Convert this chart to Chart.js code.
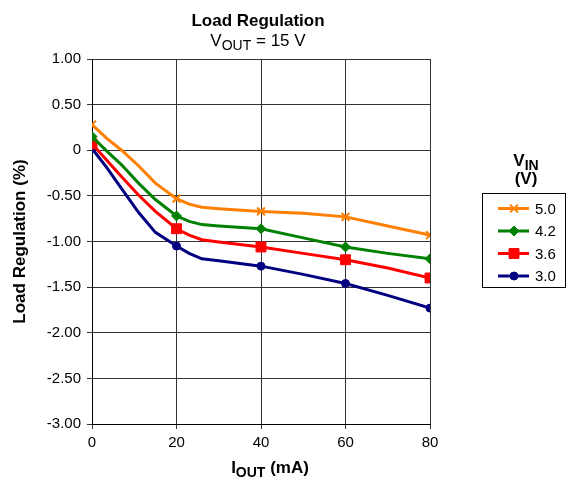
<!DOCTYPE html>
<html>
<head>
<meta charset="utf-8">
<script src="https://cdn.jsdelivr.net/npm/chart.js@4/dist/chart.umd.min.js"></script>
<style>
body { margin: 0; background: #fff; }
#wrap { position: relative; width: 576px; height: 493px; font-family: "Liberation Sans", Arial, sans-serif; color: #000; }
#wrap canvas { position: absolute; left: 0; top: 0; }
.lbl { position: absolute; white-space: nowrap; text-align: center; line-height: 20px; }
.lbl sub { font-size: 14px; vertical-align: -4px; line-height: 0; }
</style>
</head>
<body>
<div id="wrap">
  <canvas id="myChart" width="576" height="493"></canvas>
  <div class="lbl" style="left:158px; width:200px; top:11px; font-size:17px; font-weight:bold;">Load Regulation</div>
  <div class="lbl" style="left:158px; width:200px; top:31px; font-size:17px;">V<sub>OUT</sub> = 15 V</div>
  <div class="lbl" style="left:170px; width:200px; top:458px; font-size:17px; font-weight:bold;">I<sub>OUT</sub> (mA)</div>
  <div class="lbl" style="left:476px; width:100px; top:151px; font-size:17px; font-weight:bold;">V<sub>IN</sub></div>
  <div class="lbl" style="left:476px; width:100px; top:169px; font-size:17px; font-weight:bold;">(V)</div>
</div>
<script>
// output current (mA)
var iout = [0, 3.5, 7, 11, 15, 20, 23, 26, 30, 40, 50, 60, 70, 80];

// load regulation (%) for each input voltage
var vin50 = [0.28, 0.13, 0.0, -0.17, -0.36, -0.53, -0.59, -0.625, -0.64, -0.67, -0.69, -0.73, -0.83, -0.93];
var vin42 = [0.15, -0.01, -0.16, -0.36, -0.54, -0.72, -0.78, -0.815, -0.83, -0.86, -0.96, -1.06, -1.13, -1.19];
var vin36 = [0.07, -0.11, -0.29, -0.49, -0.67, -0.86, -0.93, -0.98, -1.005, -1.06, -1.13, -1.20, -1.29, -1.40];
var vin30 = [0.02, -0.19, -0.42, -0.68, -0.90, -1.05, -1.13, -1.19, -1.21, -1.27, -1.36, -1.46, -1.59, -1.73];

var seriesLabels = ['5.0', '4.2', '3.6', '3.0'];
var xTicks = [0, 20, 40, 60, 80];

var FONT = '"Liberation Sans", Arial, sans-serif';

function toPoints(ys) {
    var pts = [];
    for (var i = 0; i < iout.length; i++) {
        pts.push({x: iout[i], y: ys[i]});
    }
    return pts;
}

// marker only on the 20 mA grid points
function markerRadius(r) {
    return function(ctx) {
        return (ctx.raw && ctx.raw.x % 20 === 0) ? r : 0;
    };
}

function makeSet(label, ys, color, style, r, bw) {
    return {
        label: label,
        data: toPoints(ys),
        borderColor: color,
        backgroundColor: color,
        borderWidth: 3,
        tension: 0,
        pointStyle: style,
        pointRadius: markerRadius(r),
        pointHoverRadius: markerRadius(r),
        pointBackgroundColor: color,
        pointBorderColor: color,
        pointBorderWidth: bw,
        legendRadius: r
    };
}

// legend box at the right of the plot
var legendBox = {
    id: 'legendBox',
    afterDraw: function(chart) {
        var ctx = chart.ctx;
        var x0 = chart.chartArea.right + 53;
        ctx.save();
        ctx.strokeStyle = '#000';
        ctx.lineWidth = 1;
        ctx.strokeRect(x0 - 0.5, 193.5, 83, 94);
        chart.data.datasets.forEach(function(ds, i) {
            var y = 208.5 + i * 22.5;
            ctx.strokeStyle = ds.borderColor;
            ctx.fillStyle = ds.borderColor;
            ctx.lineWidth = 3;
            ctx.beginPath();
            ctx.moveTo(x0 + 15, y);
            ctx.lineTo(x0 + 46, y);
            ctx.stroke();
            ctx.lineWidth = ds.pointBorderWidth;
            Chart.helpers.drawPoint(ctx, {
                pointStyle: ds.pointStyle,
                radius: ds.legendRadius,
                borderWidth: ds.pointBorderWidth,
                rotation: 0
            }, x0 + 31, y);
            ctx.fillStyle = '#000';
            ctx.font = '15px ' + FONT;
            ctx.textBaseline = 'middle';
            ctx.textAlign = 'left';
            ctx.fillText(ds.label, x0 + 52, y + 1);
        });
        ctx.restore();
    }
};

var ctx = document.getElementById('myChart').getContext('2d');
var chart = new Chart(ctx, {
    type: 'line',
    data: {
        datasets: [
            makeSet(seriesLabels[0], vin50, '#FF7F00', 'crossRot', 5.5, 2),
            makeSet(seriesLabels[1], vin42, '#008000', 'rectRot', 5, 1),
            makeSet(seriesLabels[2], vin36, '#FF0000', 'rect', 7, 1),
            makeSet(seriesLabels[3], vin30, '#000080', 'circle', 4, 1)
        ]
    },
    options: {
        responsive: false,
        animation: false,
        devicePixelRatio: 1,
        layout: {padding: {top: 59, right: 146, bottom: 0, left: 0}},
        plugins: {
            legend: {display: false},
            title: {display: false},
            tooltip: {enabled: false}
        },
        scales: {
            x: {
                type: 'linear',
                min: 0,
                max: 80,
                afterBuildTicks: function(scale) {
                    scale.ticks = xTicks.map(function(v) { return {value: v}; });
                },
                afterFit: function(scale) { scale.height = 69; },
                grid: {color: '#333', lineWidth: 1, tickLength: 5, drawTicks: true},
                border: {color: '#000', width: 1},
                ticks: {color: '#000', font: {family: FONT, size: 15}, padding: 5, maxRotation: 0}
            },
            y: {
                type: 'linear',
                min: -3,
                max: 1,
                ticks: {
                    stepSize: 0.5,
                    color: '#000',
                    font: {family: FONT, size: 15},
                    padding: 6,
                    callback: function(v) { return v === 0 ? '0' : v.toFixed(2); }
                },
                afterFit: function(scale) { scale.width = 92; },
                grid: {color: '#333', lineWidth: 1, tickLength: 5, drawTicks: true},
                border: {color: '#000', width: 1},
                title: {
                    display: true,
                    text: 'Load Regulation (%)',
                    color: '#000',
                    font: {family: FONT, size: 17, weight: 'bold'},
                    padding: {top: 10, bottom: 0}
                }
            }
        }
    },
    plugins: [legendBox]
});
</script>
</body>
</html>
